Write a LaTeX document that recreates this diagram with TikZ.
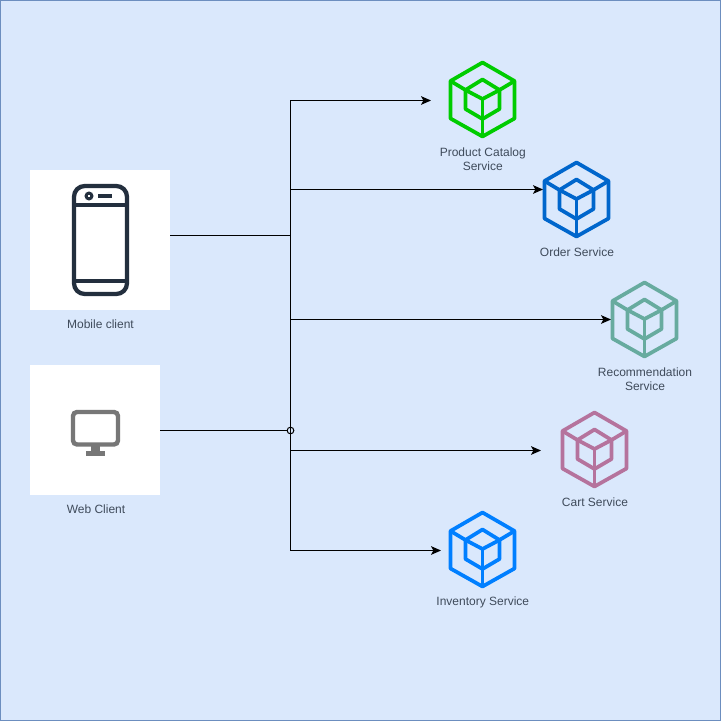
\documentclass[tikz,border=0pt]{standalone}
\usepackage{fontspec}
\setmainfont{Liberation Sans}
\usetikzlibrary{arrows.meta}
\definecolor{bgfill}{HTML}{DAE8FC}
\definecolor{bgline}{HTML}{6C8EBF}
\definecolor{inkdark}{HTML}{232F3E}
\definecolor{inkgray}{HTML}{777777}
\definecolor{labelgray}{HTML}{3F4B5B}
\definecolor{productcol}{HTML}{00CC00}
\definecolor{ordercol}{HTML}{0066CC}
\definecolor{recommendcol}{HTML}{67AB9F}
\definecolor{cartcol}{HTML}{B5739D}
\definecolor{inventorycol}{HTML}{007FFF}
\tikzset{
	clientbox/.style={fill=white, inner sep=0pt},
	caption/.style={text=labelgray, font=\fontsize{9}{10.5}\selectfont, align=center, inner sep=0pt},
	feed/.style={line width=0.75pt, black},
	feedarrow/.style={feed, -{Stealth[length=7.5pt, width=6.5pt, inset=1.8pt]}},
	iconline/.style={line width=2.8pt, line join=round}
}
\def\servicecube[#1](#2){
	\begin{scope}[shift={(#2)}, iconline, #1]
		\draw (0,-37) -- (32,-18.5) -- (32,19) -- (0,37) -- (-32,19) -- (-32,-18.5) -- cycle;
		\draw (0,-20) -- (17,-9.5) -- (17,9.5) -- (0,19.5) -- (-17,9.5) -- (-17,-9.5) -- cycle;
		\draw (-17,-9.5) -- (0,-0.5) -- (17,-9.5);
		\draw (0,-0.5) -- (0,37);
		\draw (-32,-18.5) -- (-17,-9.5);
		\draw (32,-18.5) -- (17,-9.5);
	\end{scope}
}

\begin{document}
\begin{tikzpicture}[x=0.75pt, y=-0.75pt]
	%%%%% BACKGROUND %%%%%
	\useasboundingbox (0, 0) rectangle (721, 721);
	\draw[fill=bgfill, draw=bgline, line width=0.75pt] (0.5, 0.5) rectangle (720.5, 720.5);
	
	%%%%% CLIENTS %%%%%
	\node[clientbox, minimum size=105pt] (mobile) at (100.2, 240.2) {};
	\node[clientbox, minimum size=97.5pt] (web) at (95.2, 430.2) {};
	\node[caption] (mobilelabel) at (100.5, 324) {Mobile client};
	\node[caption] (weblabel) at (96, 509) {Web Client};
	
	% phone
	\draw[inkdark, line width=3.2pt, rounded corners=8pt] (74, 186) rectangle (127, 294);
	\draw[inkdark, line width=3pt] (74, 204.5) -- (127, 204.5);
	\draw[inkdark, line width=3pt] (74, 281) -- (127, 281);
	\draw[inkdark, line width=2.2pt] (89, 196) circle (2.2pt);
	\fill[inkdark] (98, 194) rectangle (112, 198);
	
	% monitor
	\draw[inkgray, line width=3.3pt, rounded corners=3pt] (73, 412) rectangle (118, 444.5);
	\fill[inkgray] (91, 446) rectangle (100, 452);
	\fill[inkgray] (86, 451) rectangle (105, 455.5);
	
	%%%%% SERVICES %%%%%
	\coordinate (product) at (482.5, 99.5);
	\coordinate (order) at (576.5, 199.5);
	\coordinate (recommend) at (644.5, 319.5);
	\coordinate (cart) at (594.5, 449.5);
	\coordinate (inventory) at (482.5, 549.5);
	
	\servicecube[productcol](product);
	\servicecube[ordercol](order);
	\servicecube[recommendcol](recommend);
	\servicecube[cartcol](cart);
	\servicecube[inventorycol](inventory);
	
	\node[caption] (productlabel) at (482.8, 159.2) {Product Catalog\\Service};
	\node[caption] (orderlabel) at (577, 252) {Order Service};
	\node[caption] (recommendlabel) at (645, 379.2) {Recommendation\\Service};
	\node[caption] (cartlabel) at (595, 502) {Cart Service};
	\node[caption] (inventorylabel) at (482.8, 602.6) {Inventory Service};
	
	%%%%% CONNECTORS %%%%%
	\node[draw, circle, line width=0.75pt, minimum size=5pt, inner sep=0pt] (hub) at (290.5, 430.5) {};
	\coordinate (mobilejoin) at (290.5, 235.5);
	\coordinate (producttip) at (431, 100.5);
	\coordinate (ordertip) at (543, 189.5);
	\coordinate (recommendtip) at (611, 319.5);
	\coordinate (carttip) at (541, 450.5);
	\coordinate (inventorytip) at (441, 550.5);
	
	\draw[feed] (mobile.east |- mobilejoin) -- (mobilejoin);
	\draw[feed] (web.east |- hub) -- (hub);
	\draw[feedarrow] (mobilejoin) |- (producttip);
	\draw[feedarrow] (mobilejoin) |- (ordertip);
	\draw[feedarrow] (mobilejoin) |- (recommendtip);
	\draw[feedarrow] (hub.center) |- (carttip);
	\draw[feedarrow] (hub.center) |- (inventorytip);
	\draw[feed] (mobilejoin) -- (hub.center);
\end{tikzpicture}
\end{document}
